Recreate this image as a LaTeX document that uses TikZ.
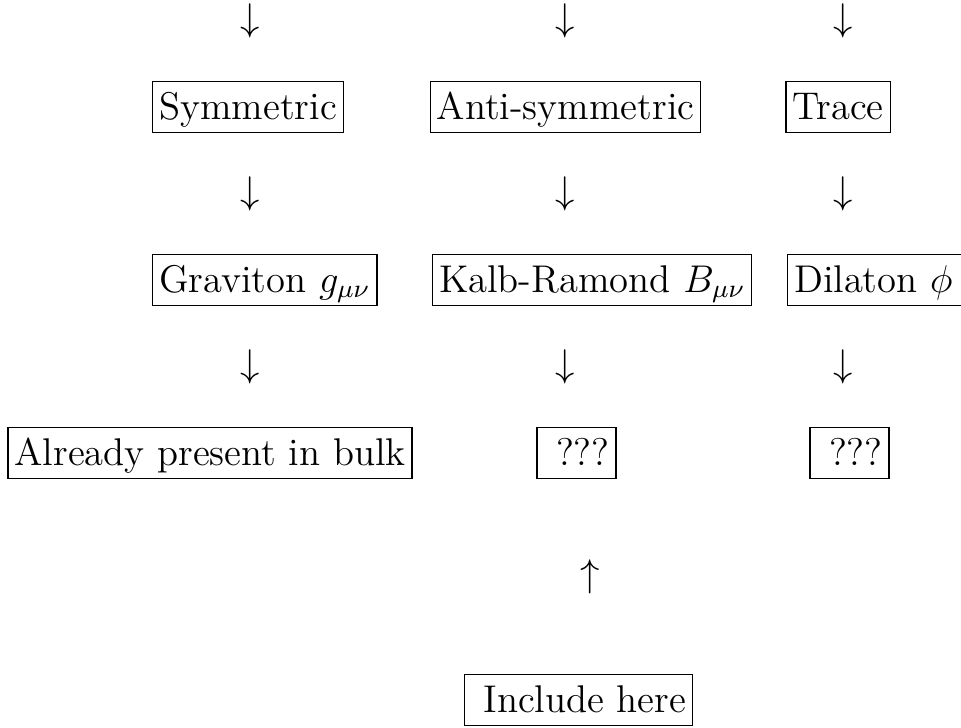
\documentclass[tikz,border=0pt,12pt]{standalone}
\usepackage{amsmath}
\usepackage{amssymb}
\usepackage{tikz}
\tikzset{
fieldbox/.style={
  draw,
  line width=0.4pt,
  inner xsep=2pt,
  inner ysep=2pt,
  text height=9.6pt,
  text depth=2.15pt
},
glypharrow/.style={
  inner sep=0pt
}
}

\begin{document}
\begin{tikzpicture}[x=0.3106pt,y=-0.3106pt]
  \useasboundingbox (0,0) rectangle (961,727);
  % incoming arrows
  \node[glypharrow] (inS) at (250,21) {$\downarrow$};
  \node[glypharrow] (inA) at (565,21) {$\downarrow$};
  \node[glypharrow] (inT) at (843,21) {$\downarrow$};
  % decomposition
  \node[fieldbox] (sym) at (248,107) {Symmetric};
  \node[fieldbox] (antisym) at (565.5,107) {Anti-symmetric};
  \node[fieldbox] (trace) at (838,107) {Trace};
  \node[glypharrow] (midS) at (250,194) {$\downarrow$};
  \node[glypharrow] (midA) at (565,194) {$\downarrow$};
  \node[glypharrow] (midT) at (843,194) {$\downarrow$};
  % fields
  \node[fieldbox, anchor=west] (graviton) at (152,280) {Graviton $g_{\mu\nu}$\ };
  \node[fieldbox, anchor=west] (kalb) at (432,280) {Kalb-Ramond $B_{\mu\nu}$};
  \node[fieldbox, anchor=west] (dilaton) at (787,280) {Dilaton $\phi$\ \ };
  \node[glypharrow] (lowS) at (250,367) {$\downarrow$};
  \node[glypharrow] (lowA) at (565,367) {$\downarrow$};
  \node[glypharrow] (lowT) at (843,367) {$\downarrow$};
  % on the brane
  \node[fieldbox] (bulk) at (210,453) {Already present in bulk};
  \node[fieldbox] (unknownB) at (576.5,453) {\ ???};
  \node[fieldbox] (unknownD) at (849.5,453) {\ ???};
  \node[glypharrow] (upB) at (590,577) {$\uparrow$};
  \node[fieldbox] (include) at (578.5,700) {\ Include here};
\end{tikzpicture}
\end{document}
